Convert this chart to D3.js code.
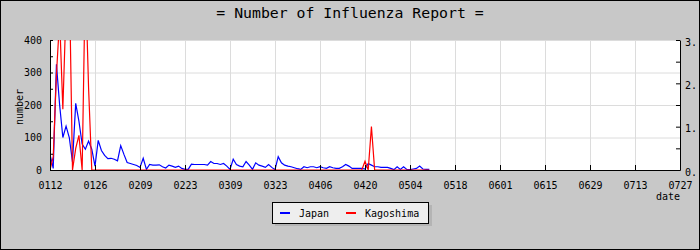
<!DOCTYPE html>
<html>
<head>
<meta charset="utf-8">
<script src="https://cdnjs.cloudflare.com/ajax/libs/d3/7.8.5/d3.min.js"></script>
<style>
  body { margin: 0; }
  #chart { width: 700px; height: 250px; }
  text { font-family: "DejaVu Sans Mono", monospace; }
</style>
</head>
<body>
<div id="chart"></div>
<script>
// daily values starting 0112
const startDay = "0112";
const japan = [48, 5, 325, 200, 100, 135, 100, 25, 205, 150, 80, 64, 89, 64, 12, 91, 60, 45, 35, 36,
  33, 28, 75, 48, 23, 20, 17, 14, 8, 36, 2, 17, 15, 15, 16, 10, 6, 15, 12, 8,
  12, 5, 2, 2, 18, 17, 17, 17, 17, 15, 26, 20, 20, 17, 20, 12, 2, 33, 17, 12,
  10, 26, 15, 2, 22, 15, 12, 8, 17, 8, 1, 41, 22, 15, 12, 10, 7, 4, 2, 10,
  7, 10, 10, 7, 10, 7, 5, 10, 7, 5, 5, 10, 17, 12, 5, 5, 5, 5, 3, 20,
  15, 10, 10, 8, 8, 8, 5, 1, 10, 2, 10, 2, 1, 3, 5, 12, 3, 2, 2];
const kagoshima = [0, 0.3, 2.2, 3.5, 1.4, 3.8, 4.5, 0, 0.5, 0.8, 0, 4.5, 1.9, 0, 0, 0, 0, 0, 0, 0,
  0, 0, 0, 0, 0, 0, 0, 0, 0, 0, 0, 0, 0, 0, 0, 0, 0, 0, 0, 0,
  0, 0, 0, 0, 0, 0, 0, 0, 0, 0, 0, 0, 0, 0, 0, 0, 0, 0, 0, 0,
  0, 0, 0, 0, 0, 0, 0, 0, 0, 0, 0, 0, 0, 0, 0, 0, 0, 0, 0, 0,
  0, 0, 0, 0, 0, 0, 0, 0, 0, 0, 0, 0, 0, 0, 0, 0, 0, 0, 0.2, 0,
  1.0, 0, 0, 0, 0, 0, 0, 0, 0, 0, 0, 0, 0, 0, 0, 0, 0, 0, 0];
const dateTicks = ["0112", "0126", "0209", "0223", "0309", "0323", "0406", "0420",
  "0504", "0518", "0601", "0615", "0629", "0713", "0727"];
const leftTicks = [0, 50, 100, 150, 200, 250, 300, 350, 400];
const rightTicks = [0, 0.5, 1, 1.5, 2, 2.5, 3];
const seriesNames = ["Japan", "Kagoshima"];
const seriesColors = ["#0000ff", "#ff0000"];

const W = 700, H = 250;
const m = {left: 50, right: 20, top: 40, bottom: 80};
const parse = s => d3.timeParse("%Y%m%d")("2009" + s);
const t0 = parse(startDay);
const tickDates = dateTicks.map(parse);

const svg = d3.select("#chart").append("svg").attr("width", W).attr("height", H);

svg.append("rect").attr("width", W).attr("height", H).attr("fill", "#c8c8c8");

const x = d3.scaleTime()
  .domain([tickDates[0], tickDates[tickDates.length - 1]])
  .range([m.left, W - m.right]);
const y = d3.scaleLinear().domain([0, 400]).range([H - m.bottom, m.top]);
const y2 = d3.scaleLinear().domain([0, 3]).range([H - m.bottom, m.top]);

svg.append("rect")
  .attr("x", m.left).attr("y", m.top)
  .attr("width", W - m.left - m.right).attr("height", H - m.top - m.bottom)
  .attr("fill", "#fff");

svg.append("clipPath").attr("id", "plot")
  .append("rect")
  .attr("x", m.left).attr("y", m.top)
  .attr("width", W - m.left - m.right).attr("height", H - m.top - m.bottom);

// grid
const gx = svg.append("g")
  .attr("transform", `translate(0,${H - m.bottom})`)
  .call(d3.axisBottom(x).tickValues(tickDates).tickSize(-(H - m.top - m.bottom)).tickFormat(""));
const gy = svg.append("g")
  .attr("transform", `translate(${m.left},0)`)
  .call(d3.axisLeft(y).tickValues([0, 100, 200, 300, 400]).tickSize(-(W - m.left - m.right)).tickFormat(""));
[gx, gy].forEach(g => {
  g.select(".domain").remove();
  g.selectAll("line").attr("stroke", "#dcdcdc").attr("stroke-width", 1);
});

const day = i => d3.timeDay.offset(t0, i);

const line1 = d3.line().x((d, i) => x(day(i))).y(d => y(d));
const line2 = d3.line().x((d, i) => x(day(i))).y(d => y2(d));

const lines = svg.append("g").attr("clip-path", "url(#plot)");
lines.append("path").datum(japan).attr("d", line1)
  .attr("fill", "none").attr("stroke", seriesColors[0]).attr("stroke-width", 1.2);
lines.append("path").datum(kagoshima).attr("d", line2)
  .attr("fill", "none").attr("stroke", seriesColors[1]).attr("stroke-width", 1.2);

// axes
const axisStyle = g => {
  g.selectAll("path,line").attr("stroke", "#000");
  g.selectAll("text").attr("fill", "#000").attr("font-size", "10px")
    .attr("font-family", "DejaVu Sans Mono");
};
svg.append("g")
  .attr("transform", `translate(0,${H - m.bottom})`)
  .call(d3.axisBottom(x).tickValues(tickDates).tickSizeInner(-5).tickSizeOuter(0)
    .tickPadding(12).tickFormat(d3.timeFormat("%m%d")))
  .call(axisStyle);
svg.append("g")
  .attr("transform", `translate(${m.left},0)`)
  .call(d3.axisLeft(y).tickValues(leftTicks).tickSizeInner(-3).tickSizeOuter(0)
    .tickPadding(8).tickFormat(d => d % 100 === 0 ? d : ""))
  .call(axisStyle);
svg.append("g")
  .attr("transform", `translate(${W - m.right},0)`)
  .call(d3.axisRight(y2).tickValues(rightTicks).tickSizeInner(-4).tickSizeOuter(0)
    .tickPadding(5).tickFormat(d => Number.isInteger(d) ? d + "." : ""))
  .call(axisStyle)
  .selectAll("text").attr("dy", "0.5em");

svg.append("text")
  .attr("transform", `translate(23,${(m.top + H - m.bottom) / 2 + 2}) rotate(-90)`)
  .attr("text-anchor", "middle").attr("font-size", "10px").text("number");
svg.append("text")
  .attr("x", W - m.right).attr("y", 200)
  .attr("text-anchor", "end").attr("font-size", "10px").text("date");

svg.append("text")
  .attr("x", W / 2).attr("y", 18)
  .attr("text-anchor", "middle").attr("font-size", "14.8px").text("= Number of Influenza Report =");

// legend
const lg = svg.append("g").attr("transform", "translate(272,202)");
lg.append("rect").attr("x", 3).attr("y", 3).attr("width", 157).attr("height", 21).attr("fill", "#b4b4b4");
lg.append("rect").attr("x", 0.5).attr("y", 0.5).attr("width", 156).attr("height", 21)
  .attr("fill", "#eeeeee").attr("stroke", "#000");
const entry = lg.selectAll("g.entry").data(seriesNames).join("g")
  .attr("transform", (d, i) => `translate(${8 + i * 66},11)`);
entry.append("line").attr("x1", 0).attr("x2", 10)
  .attr("stroke", (d, i) => seriesColors[i]).attr("stroke-width", 2);
entry.append("text").attr("x", 19).attr("y", 4).attr("font-size", "10px").text(d => d);

svg.append("rect").attr("x", 0.5).attr("y", 0.5).attr("width", W - 1).attr("height", H - 1)
  .attr("fill", "none").attr("stroke", "#000");
</script>
</body>
</html>
